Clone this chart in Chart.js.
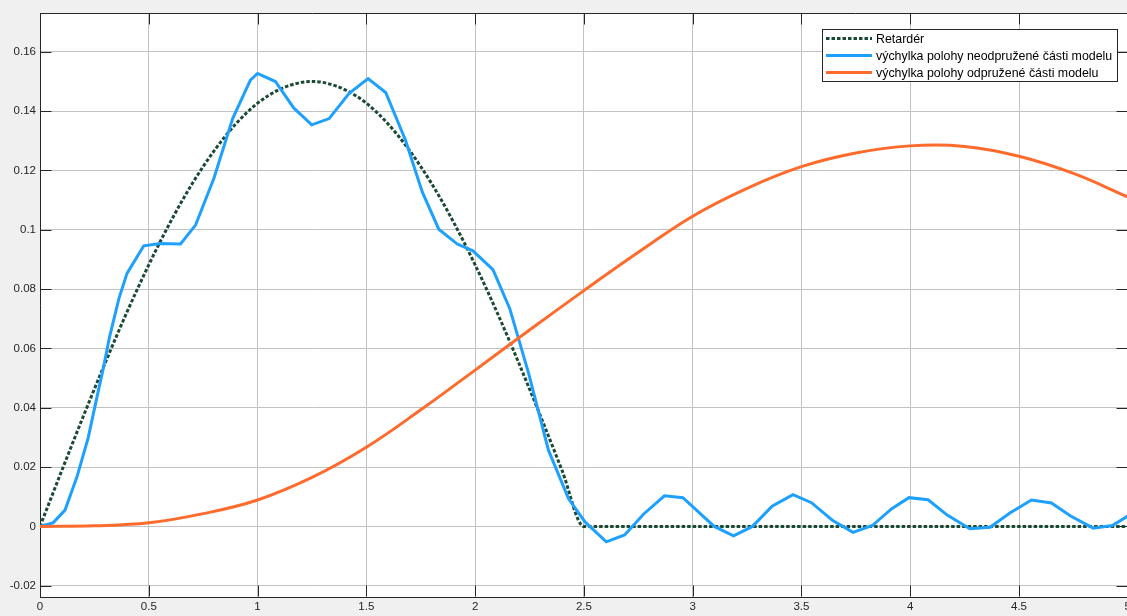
<!DOCTYPE html>
<html>
<head>
<meta charset="utf-8">
<script src="https://cdn.jsdelivr.net/npm/chart.js@4/dist/chart.umd.min.js"></script>
<style>
  html, body { margin: 0; padding: 0; overflow: hidden; background: #f0f0f0; width: 1127px; height: 616px; }
  #wrap { width: 1134px; height: 616px; }
</style>
</head>
<body>
<div id="wrap"><canvas id="c" width="1134" height="616"></canvas></div>
<script>
// Axis ticks
const xTicks = [0, 0.5, 1, 1.5, 2, 2.5, 3, 3.5, 4, 4.5, 5];
const xTickLabels = ['0', '0.5', '1', '1.5', '2', '2.5', '3', '3.5', '4', '4.5', '5'];
const yTicks = [-0.02, 0, 0.02, 0.04, 0.06, 0.08, 0.1, 0.12, 0.14, 0.16];
const yTickLabels = ['-0.02', '0', '0.02', '0.04', '0.06', '0.08', '0.1', '0.12', '0.14', '0.16'];

const seriesNames = ['Retardér', 'výchylka polohy neodpružené části modelu', 'výchylka polohy odpružené části modelu'];

// Road bump profile (retarder)
const retarderX = [0, 0.1, 0.2, 0.3, 0.4, 0.5, 0.6, 0.7, 0.8, 0.9, 1.0, 1.1, 1.2, 1.25, 1.3, 1.4, 1.5, 1.6, 1.7, 1.8, 1.9, 2.0, 2.1, 2.2, 2.3, 2.4, 2.5, 5];
const retarderY = [0, 0.0188, 0.0373, 0.0552, 0.0723, 0.0882, 0.1027, 0.1156, 0.1266, 0.1357, 0.1427, 0.1473, 0.1497, 0.150, 0.1497, 0.1473, 0.1427, 0.1357, 0.1266, 0.1156, 0.1027, 0.0882, 0.0723, 0.0552, 0.0373, 0.0188, 0, 0];

// Unsprung mass displacement
const unsprungX = [0, 0.06, 0.115, 0.17, 0.222, 0.26, 0.29, 0.32, 0.363, 0.40, 0.477, 0.553, 0.646, 0.715, 0.799, 0.886, 0.967, 1.0, 1.082, 1.166, 1.249, 1.329, 1.421, 1.508, 1.589, 1.68, 1.757, 1.833, 1.918, 1.99, 2.082, 2.159, 2.246, 2.337, 2.429, 2.505, 2.603, 2.687, 2.775, 2.87, 2.955, 3.099, 3.188, 3.275, 3.365, 3.461, 3.546, 3.642, 3.737, 3.826, 3.915, 3.994, 4.082, 4.17, 4.274, 4.367, 4.458, 4.557, 4.649, 4.737, 4.841, 4.929, 5.0];
const unsprungY = [0, 0.0012, 0.0055, 0.0167, 0.030, 0.043, 0.053, 0.064, 0.0769, 0.0853, 0.0946, 0.0954, 0.0952, 0.1016, 0.1173, 0.1376, 0.1505, 0.1527, 0.150, 0.1411, 0.1354, 0.1375, 0.146, 0.151, 0.1463, 0.1302, 0.1128, 0.1002, 0.0952, 0.0929, 0.0866, 0.0735, 0.0516, 0.0257, 0.0094, 0.0015, -0.0052, -0.0029, 0.0042, 0.0103, 0.0097, 0.0, -0.0032, 0.0, 0.0068, 0.0107, 0.008, 0.0021, -0.002, 0.0003, 0.006, 0.0097, 0.009, 0.0038, -0.0008, -0.0003, 0.0045, 0.0089, 0.0079, 0.0035, -0.0006, 0.0003, 0.0035];

// Sprung mass displacement
const sprungX = [0, 0.25, 0.5, 0.75, 1.0, 1.25, 1.5, 1.75, 2.0, 2.25, 2.5, 2.75, 3.0, 3.25, 3.5, 3.75, 4.0, 4.25, 4.5, 4.75, 5.0];
const sprungY = [0, 0.0002, 0.0012, 0.0043, 0.0089, 0.0165, 0.0267, 0.0393, 0.0527, 0.0662, 0.0795, 0.0924, 0.1046, 0.1140, 0.1213, 0.1259, 0.1283, 0.1281, 0.1248, 0.1190, 0.1111];

const colors = ['#1a4a33', '#1ea0fe', '#fe6b2c'];
const FONT = '"Liberation Sans", Arial, sans-serif';

const toPoints = (xs, ys) => xs.map((x, i) => ({ x: x, y: ys[i] }));

// Grey figure background, white axes, inward ticks and box
const framePlugin = {
  id: 'frame',
  beforeDraw(chart) {
    const { ctx, chartArea: a } = chart;
    ctx.save();
    ctx.fillStyle = '#f0f0f0';
    ctx.fillRect(0, 0, chart.width, chart.height);
    ctx.fillStyle = '#ffffff';
    ctx.fillRect(a.left, a.top, a.right - a.left, a.bottom - a.top);
    ctx.restore();
  },
  beforeDatasetsDraw(chart) {
    const { ctx, chartArea: a, scales: { x, y } } = chart;
    const L = Math.round(a.left) + 0.5, R = Math.round(a.right) - 0.5;
    const T = Math.round(a.top) + 0.5, B = Math.round(a.bottom) - 0.5;
    ctx.save();
    ctx.strokeStyle = '#262626';
    ctx.lineWidth = 1;
    ctx.beginPath();
    xTicks.forEach(v => {
      const px = Math.round(x.getPixelForValue(v)) + 0.5;
      ctx.moveTo(px, B); ctx.lineTo(px, B - 11);
      ctx.moveTo(px, T); ctx.lineTo(px, T + 11);
    });
    yTicks.forEach(v => {
      const py = Math.round(y.getPixelForValue(v)) + 0.5;
      ctx.moveTo(L, py); ctx.lineTo(L + 11, py);
      ctx.moveTo(R, py); ctx.lineTo(R - 11, py);
    });
    ctx.moveTo(L, T); ctx.lineTo(R, T); ctx.lineTo(R, B);
    ctx.stroke();
    ctx.restore();
  }
};

// Boxed legend in the upper right corner of the axes
const boxLegend = {
  id: 'boxLegend',
  afterDraw(chart) {
    const { ctx } = chart;
    const bx = 822.5, by = 29.5, bw = 295, bh = 52;
    ctx.save();
    ctx.fillStyle = '#ffffff';
    ctx.fillRect(bx, by, bw, bh);
    ctx.strokeStyle = '#262626';
    ctx.lineWidth = 1;
    ctx.strokeRect(bx, by, bw, bh);
    const rows = [39.5, 56.5, 73.5];
    ctx.font = '12.4px ' + FONT;
    ctx.textBaseline = 'middle';
    ctx.textAlign = 'left';
    seriesNames.forEach((name, i) => {
      const ly = rows[i] - 1;
      ctx.beginPath();
      ctx.strokeStyle = colors[i];
      ctx.lineWidth = 3;
      ctx.setLineDash(i === 0 ? [3.5, 2] : []);
      ctx.moveTo(826, ly); ctx.lineTo(872, ly);
      ctx.stroke();
      ctx.setLineDash([]);
      ctx.fillStyle = '#000000';
      ctx.fillText(name, 876, rows[i]);
    });
    ctx.restore();
  }
};

new Chart(document.getElementById('c'), {
  type: 'line',
  data: {
    datasets: [
      {
        label: seriesNames[0],
        data: toPoints(retarderX, retarderY),
        borderColor: colors[0],
        borderWidth: 3,
        borderDash: [3.5, 2],
        cubicInterpolationMode: 'monotone',
        pointRadius: 0,
        order: 3
      },
      {
        label: seriesNames[1],
        data: toPoints(unsprungX, unsprungY),
        borderColor: colors[1],
        borderWidth: 3,
        tension: 0,
        pointRadius: 0,
        order: 2
      },
      {
        label: seriesNames[2],
        data: toPoints(sprungX, sprungY),
        borderColor: colors[2],
        borderWidth: 3,
        tension: 0.4,
        pointRadius: 0,
        order: 1
      }
    ]
  },
  options: {
    responsive: false,
    animation: false,
    events: [],
    layout: { padding: { left: 0, top: 13, right: 4, bottom: 0 } },
    plugins: { legend: { display: false }, tooltip: { enabled: false }, title: { display: false } },
    scales: {
      x: {
        type: 'linear',
        min: 0,
        max: 5,
        afterFit(s) { s.height = 19; },
        afterBuildTicks(s) { s.ticks = xTicks.map(v => ({ value: v })); },
        grid: { color: '#c2c2c2', lineWidth: 1, drawTicks: false },
        border: { display: true, color: '#262626', width: 1 },
        ticks: {
          padding: 3,
          autoSkip: false,
          maxRotation: 0,
          color: '#262626',
          font: { family: FONT, size: 11.5 },
          callback: (v, i) => xTickLabels[i]
        }
      },
      y: {
        type: 'linear',
        min: -0.0238,
        max: 0.1731,
        afterFit(s) { s.width = 40; },
        afterBuildTicks(s) { s.ticks = yTicks.map(v => ({ value: v })); },
        grid: { color: '#c2c2c2', lineWidth: 1, drawTicks: false },
        border: { display: true, color: '#262626', width: 1 },
        ticks: {
          padding: 4,
          autoSkip: false,
          color: '#262626',
          font: { family: FONT, size: 11.5 },
          callback: (v, i) => yTickLabels[i]
        }
      }
    }
  },
  plugins: [framePlugin, boxLegend]
});
</script>
</body>
</html>
